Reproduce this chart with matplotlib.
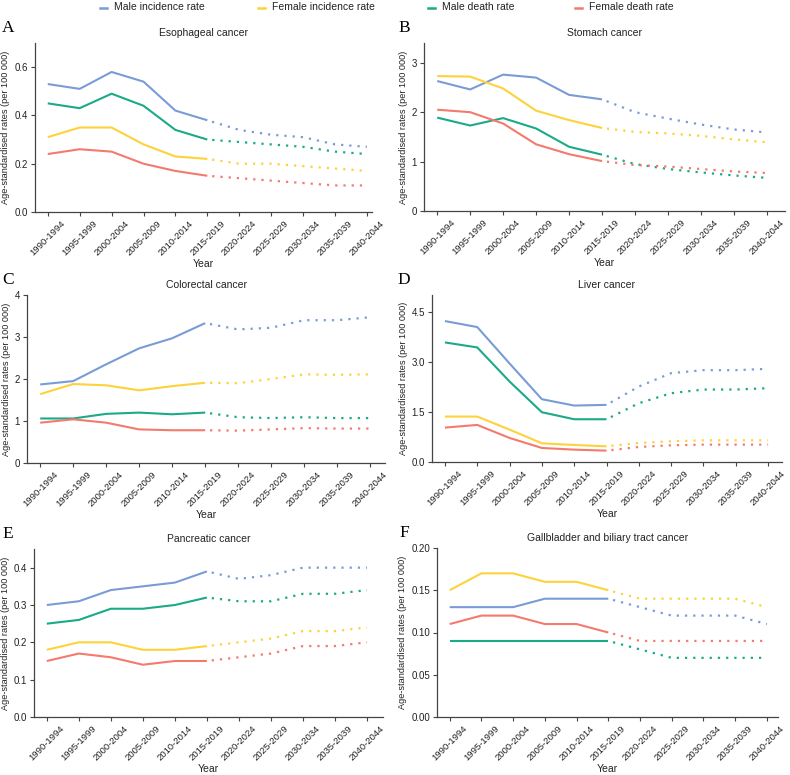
import matplotlib
matplotlib.use("Agg")
import matplotlib.pyplot as plt
from matplotlib.lines import Line2D

plt.rcParams['font.family'] = ['Liberation Sans', 'DejaVu Sans']

# ==== data ====
periods = ["1990-1994", "1995-1999", "2000-2004", "2005-2009", "2010-2014", "2015-2019",
           "2020-2024", "2025-2029", "2030-2034", "2035-2039", "2040-2044"]
series_names = ["Male incidence rate", "Female incidence rate", "Male death rate", "Female death rate"]
series_colors = ["#7A9CD6", "#FDD23A", "#1BAA88", "#F47A6E"]

# observed 1990-2019 (6 points), projected 2015-2044 (6 points)
eso_obs = [[0.53, 0.51, 0.58, 0.54, 0.42, 0.38],
           [0.31, 0.35, 0.35, 0.28, 0.23, 0.22],
           [0.45, 0.43, 0.49, 0.44, 0.34, 0.30],
           [0.24, 0.26, 0.25, 0.20, 0.17, 0.15]]
eso_proj = [[0.38, 0.34, 0.32, 0.31, 0.28, 0.27],
            [0.22, 0.20, 0.20, 0.19, 0.18, 0.17],
            [0.30, 0.29, 0.28, 0.27, 0.25, 0.24],
            [0.15, 0.14, 0.13, 0.12, 0.11, 0.11]]

sto_obs = [[2.63, 2.46, 2.76, 2.70, 2.35, 2.26],
           [2.73, 2.72, 2.48, 2.03, 1.84, 1.68],
           [1.89, 1.73, 1.88, 1.67, 1.30, 1.14],
           [2.05, 2.00, 1.77, 1.35, 1.15, 1.01]]
sto_proj = [[2.26, 2.00, 1.87, 1.75, 1.65, 1.59],
            [1.68, 1.60, 1.57, 1.52, 1.45, 1.39],
            [1.14, 0.95, 0.85, 0.78, 0.72, 0.67],
            [1.01, 0.93, 0.90, 0.85, 0.80, 0.77]]

col_obs = [[1.87, 1.95, 2.35, 2.73, 2.97, 3.33],
           [1.64, 1.88, 1.85, 1.73, 1.83, 1.91],
           [1.06, 1.06, 1.17, 1.20, 1.16, 1.20],
           [0.96, 1.04, 0.96, 0.80, 0.78, 0.78]]
col_proj = [[3.33, 3.18, 3.22, 3.40, 3.40, 3.47],
            [1.91, 1.90, 2.00, 2.11, 2.10, 2.11],
            [1.20, 1.09, 1.07, 1.09, 1.07, 1.07],
            [0.78, 0.77, 0.80, 0.83, 0.82, 0.82]]

liv_obs = [[4.22, 4.04, 2.95, 1.88, 1.69, 1.71],
           [1.36, 1.36, 0.97, 0.56, 0.51, 0.47],
           [3.58, 3.43, 2.41, 1.49, 1.28, 1.28],
           [1.03, 1.11, 0.72, 0.42, 0.37, 0.34]]
liv_proj = [[1.71, 2.26, 2.66, 2.75, 2.75, 2.79],
            [0.47, 0.57, 0.62, 0.65, 0.65, 0.65],
            [1.28, 1.76, 2.06, 2.17, 2.17, 2.21],
            [0.34, 0.45, 0.50, 0.52, 0.52, 0.52]]

pan_obs = [[0.30, 0.31, 0.34, 0.35, 0.36, 0.39],
           [0.18, 0.20, 0.20, 0.18, 0.18, 0.19],
           [0.25, 0.26, 0.29, 0.29, 0.30, 0.32],
           [0.15, 0.17, 0.16, 0.14, 0.15, 0.15]]
pan_proj = [[0.39, 0.37, 0.38, 0.40, 0.40, 0.40],
            [0.19, 0.20, 0.21, 0.23, 0.23, 0.24],
            [0.32, 0.31, 0.31, 0.33, 0.33, 0.34],
            [0.15, 0.16, 0.17, 0.19, 0.19, 0.20]]

gall_obs = [[0.13, 0.13, 0.13, 0.14, 0.14, 0.14],
            [0.15, 0.17, 0.17, 0.16, 0.16, 0.15],
            [0.09, 0.09, 0.09, 0.09, 0.09, 0.09],
            [0.11, 0.12, 0.12, 0.11, 0.11, 0.10]]
gall_proj = [[0.14, 0.13, 0.12, 0.12, 0.12, 0.11],
             [0.15, 0.14, 0.14, 0.14, 0.14, 0.13],
             [0.09, 0.08, 0.07, 0.07, 0.07, 0.07],
             [0.10, 0.09, 0.09, 0.09, 0.09, 0.09]]

titles = ["Esophageal cancer", "Stomach cancer", "Colorectal cancer",
          "Liver cancer", "Pancreatic cancer", "Gallbladder and biliary tract cancer"]
letters = ["A", "B", "C", "D", "E", "F"]
yticks = [[0.0, 0.2, 0.4, 0.6], [0, 1, 2, 3], [0, 1, 2, 3, 4],
          [0.0, 1.5, 3.0, 4.5], [0.0, 0.1, 0.2, 0.3, 0.4], [0.00, 0.05, 0.10, 0.15, 0.20]]
ytick_fmt = ["{:.1f}", "{:.0f}", "{:.0f}", "{:.1f}", "{:.1f}", "{:.2f}"]
ylims = [0.7, 3.4, 4.0, 5.0, 0.45, 0.2]
observed = [eso_obs, sto_obs, col_obs, liv_obs, pan_obs, gall_obs]
projected = [eso_proj, sto_proj, col_proj, liv_proj, pan_proj, gall_proj]

# ==== layout (pixels) ====
W, H = 790, 775
# left, top, right, bottom of plotting area; xlim right
boxes = [(35, 43, 372, 212, 10.16),
         (424, 43, 785, 211, 10.55),
         (27, 295, 385, 463, 10.45),
         (432, 295, 782, 462, 10.43),
         (34, 549, 383, 717, 10.5),
         (437, 548, 778, 717, 10.35)]

fig = plt.figure(figsize=(W / 100, H / 100), dpi=100)
txt = "#222222"
axc = "#444444"

x_obs = list(range(0, 6))
x_proj = list(range(5, 11))

for i in range(6):
    l, t, r, b, xr = boxes[i]
    ax = fig.add_axes([l / W, 1 - b / H, (r - l) / W, (b - t) / H])
    for k in range(4):
        ax.plot(x_obs, observed[i][k], color=series_colors[k], lw=1.5, solid_capstyle='butt')
        ax.plot(x_proj, projected[i][k], color=series_colors[k], lw=1.6,
                linestyle=(1.5, (1, 2.7)))
    ax.set_xlim(-0.4, xr)
    ax.set_ylim(0, ylims[i])
    ax.set_xticks(range(len(periods)))
    ax.set_xticklabels(periods, rotation=45, ha='center', va='top', fontsize=6.8, color=txt)
    ax.set_yticks(yticks[i])
    ax.set_yticklabels([ytick_fmt[i].format(v) for v in yticks[i]], fontsize=7, color=txt)
    ax.tick_params(length=3, width=0.8, color=axc, pad=2)
    for s in ['top', 'right']:
        ax.spines[s].set_visible(False)
    for s in ['left', 'bottom']:
        ax.spines[s].set_color(axc)
        ax.spines[s].set_linewidth(0.9)
    ax.set_title(titles[i], fontsize=7.5, color=txt, pad=5)
    ax.set_xlabel("Year", fontsize=7.5, color=txt, labelpad=1)
    ax.set_ylabel("Age-standardised rates (per 100 000)", fontsize=6.6, color=txt, labelpad=3)
    lx = 8 if i % 2 == 0 else 404
    fig.text(lx / W, 1 - (t - 15) / H, letters[i], fontsize=12.5, family='Liberation Serif',
             ha='center', va='center', color='black')

# legend across the top, placed by hand
leg_x = [100, 258, 428, 575]
leg_y = 1 - 7.5 / H
for k in range(4):
    x0 = leg_x[k]
    fig.add_artist(Line2D([x0 / W, (x0 + 7) / W], [leg_y, leg_y], color=series_colors[k], lw=1.8))
    fig.text((x0 + 14) / W, leg_y, series_names[k], fontsize=7.5, color=txt,
             ha='left', va='center')

fig.savefig("out.png", dpi=100)
